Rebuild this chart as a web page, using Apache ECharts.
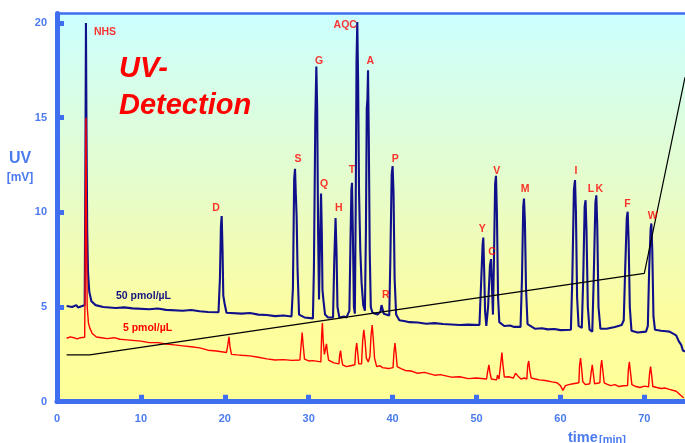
<!DOCTYPE html>
<html>
<head>
<meta charset="utf-8">
<script src="https://cdn.jsdelivr.net/npm/echarts@6/dist/echarts.min.js"></script>
<style>html,body{margin:0;padding:0;background:#fff;}#c{width:685px;height:443px;}</style>
</head>
<body>
<div id="c"></div>
<script>
// ---- data (time [min], UV [mV]) ----
const xTicks = [0, 10, 20, 30, 40, 50, 60, 70];
const yTicks = [0, 5, 10, 15, 20];

const trace50 = [
[1.15,5.05],[1.8,5.0],[2.3,5.1],[2.5,4.98],[2.7,5.08],[3.0,5.05],[3.3,5.1],
[3.38,12.0],[3.45,20.0],[3.52,14.0],[3.6,9.0],[3.7,6.8],[3.85,5.8],[4.1,5.3],[4.6,5.1],[5.5,5.0],[7,4.95],[8,4.98],[9,4.93],[11,4.88],[12,4.92],[13,4.85],[15,4.8],[16,4.84],[17,4.78],[18,4.74],[19.25,4.72],
[19.42,6.5],[19.54,9.3],[19.63,9.8],[19.73,8.0],[19.82,5.6],[19.97,5.2],[20.2,4.7],[22,4.65],[23,4.68],[24,4.6],[25,4.58],[26,4.52],[27,4.55],[27.95,4.5],
[28.12,6.0],[28.27,11.8],[28.37,12.3],[28.46,11.0],[28.56,9.8],[28.67,7.0],[28.85,4.6],[29.5,4.45],[30.5,4.4],
[30.62,7.0],[30.79,15.0],[30.91,17.7],[31.01,15.5],[31.12,9.0],[31.23,5.4],[31.35,8.5],[31.47,11.0],[31.56,9.0],[31.64,5.9],[31.77,5.3],[31.95,4.6],[32.3,4.45],[32.9,4.45],
[33.05,7.5],[33.2,9.7],[33.31,8.0],[33.43,5.0],[33.65,4.45],[34.2,4.5],[34.5,4.45],[34.85,4.8],
[34.98,8.5],[35.09,11.2],[35.16,11.56],[35.26,9.0],[35.39,5.0],[35.5,4.65],
[35.6,10.0],[35.7,18.0],[35.79,20.05],[35.89,17.0],[36.0,11.0],[36.15,8.0],[36.3,6.3],[36.5,5.1],[36.7,4.8],
[36.82,9.0],[36.92,15.5],[37.0,16.0],[37.07,17.5],[37.16,14.0],[37.27,8.0],[37.4,5.0],[37.6,4.7],[38.2,4.6],[38.55,4.75],
[38.68,5.1],[38.8,5.1],[38.95,4.65],[39.6,4.55],
[39.73,7.5],[39.89,12.0],[40.0,12.44],[40.11,11.0],[40.24,6.5],[40.42,4.6],[40.8,4.3],[41.5,4.25],[42,4.2],[43,4.18],[44,4.12],[45,4.15],[46,4.1],[47,4.08],[48,4.05],[49,4.07],[50.35,4.05],
[50.57,6.5],[50.73,8.3],[50.81,8.67],[50.91,7.0],[51.02,4.8],[51.17,4.0],
[51.38,5.0],[51.6,7.2],[51.73,7.53],[51.85,6.0],[51.96,4.6],
[52.08,7.5],[52.22,11.5],[52.32,11.93],[52.43,10.0],[52.57,5.5],[52.72,4.2],[53.3,4.0],[54.0,4.02],[54.5,3.95],[55.25,3.95],
[55.42,6.5],[55.57,10.3],[55.66,10.73],[55.77,9.5],[55.9,6.0],[56.08,4.1],[57,3.85],[57.8,3.88],[58.5,3.82],[59.3,3.84],[60.0,3.78],[61.25,3.8],
[61.42,6.5],[61.61,11.2],[61.74,11.7],[61.85,10.0],[61.99,5.5],[62.17,4.0],[62.55,3.9],
[62.72,6.5],[62.89,10.3],[63.0,10.64],[63.11,9.0],[63.27,5.0],[63.47,3.8],[63.8,3.7],
[63.97,6.5],[64.17,10.5],[64.28,10.9],[64.39,9.3],[64.54,5.0],[64.77,3.85],[65.5,3.85],[66.5,3.95],[67.3,4.05],[67.55,4.3],
[67.72,7.0],[67.91,9.7],[68.02,10.03],[68.13,8.5],[68.27,5.0],[68.47,3.75],[69.2,3.65],[70.2,3.7],[70.42,4.0],
[70.58,7.0],[70.75,9.1],[70.84,9.41],[70.95,8.0],[71.09,4.5],[71.27,3.8],[72.0,3.75],[72.6,3.72],[73.0,3.7],[73.8,3.5],[74.1,3.2],[74.4,3.0],[74.6,2.7],[74.85,2.65]
];

const trace5 = [
[1.15,3.35],[1.6,3.42],[2.0,3.38],[2.4,3.32],[2.8,3.38],[3.3,3.4],
[3.38,9.0],[3.45,15.0],[3.52,9.0],[3.6,5.0],[3.75,4.15],[3.9,3.9],[4.2,3.6],[4.7,3.42],[5.3,3.38],[6,3.33],[6.8,3.38],[7.5,3.3],[8,3.28],[9,3.24],[10,3.2],[11,3.12],[12,3.12],[13,3.05],[14,3.0],[15,2.95],[16,2.9],[17,2.84],[18,2.72],[19,2.68],[20.2,2.6],
[20.36,3.0],[20.5,3.43],[20.62,2.9],[20.8,2.5],[21.5,2.47],[22,2.45],[23,2.42],[24,2.35],[25,2.26],[26,2.2],[27,2.22],[28,2.18],[28.95,2.2],
[29.1,3.0],[29.22,3.65],[29.34,3.0],[29.5,2.25],[30.0,2.15],[30.5,2.17],[31.45,2.1],
[31.54,3.5],[31.63,4.15],[31.73,3.2],[31.87,2.5],[32.0,2.55],[32.12,3.05],[32.23,2.6],[32.37,2.2],[33.0,2.05],[33.6,2.0],
[33.7,2.5],[33.8,2.7],[33.9,2.3],[34.05,1.95],[34.5,1.85],[35.0,1.9],[35.5,1.95],
[35.6,2.7],[35.72,3.1],[35.84,2.6],[35.97,2.0],[36.3,2.0],
[36.43,3.2],[36.57,3.8],[36.72,3.2],[36.87,2.3],[37.1,2.1],[37.3,2.4],
[37.43,3.5],[37.57,4.05],[37.7,3.3],[37.85,2.3],[38.1,1.85],[38.5,1.9],[38.8,1.8],[39.5,1.75],[40.05,1.8],
[40.16,2.6],[40.28,3.1],[40.4,2.6],[40.55,1.85],[41.0,1.75],[41.5,1.65],[42.2,1.62],[43,1.5],[43.8,1.55],[45,1.4],[45.7,1.43],[47,1.3],[48,1.32],[49,1.22],[50,1.25],[51.2,1.2],
[51.33,1.6],[51.48,1.95],[51.62,1.5],[51.77,1.2],[52.4,1.15],
[52.5,1.4],[52.58,1.5],[52.68,1.2],[52.85,1.3],
[52.93,2.2],[53.03,2.6],[53.14,2.0],[53.32,1.3],[53.8,1.32],[54.4,1.25],
[54.65,1.5],[54.8,1.6],[54.95,1.35],[55.3,1.2],[55.7,1.25],[56.0,1.2],
[56.1,1.9],[56.22,2.15],[56.34,1.7],[56.52,1.25],[57.0,1.2],[57.5,1.15],[58.2,1.12],[59,1.05],[59.6,1.0],[60.0,0.85],[60.3,0.6],[60.6,0.85],[61.0,0.9],[61.5,0.95],[62.2,1.0],
[62.28,1.9],[62.4,2.3],[62.52,1.8],[62.67,1.05],[63.0,0.9],[63.5,0.95],
[63.68,1.6],[63.8,1.95],[63.92,1.5],[64.07,0.95],[64.7,1.0],
[64.8,1.8],[64.92,2.2],[65.04,1.7],[65.22,1.0],[65.6,0.92],[66.0,0.85],[66.5,0.9],[67.0,0.8],[67.5,0.84],[68.0,0.85],
[68.1,1.7],[68.22,2.1],[68.34,1.6],[68.52,0.9],[69.0,0.8],[69.5,0.75],[70.0,0.82],[70.5,0.78],
[70.63,1.5],[70.75,1.85],[70.87,1.4],[71.02,0.8],[71.5,0.75],[72,0.7],[72.5,0.72],[73,0.65],[73.8,0.55],[74.3,0.35],[74.7,0.2]
];

const gradientLine = [[1.15,2.47],[3.9,2.47],[70.0,6.78],[74.85,17.13]];

const peakNames = ['NHS','D','S','G','Q','H','T','AQC','A','R','P','Y','C','V','M','I','L','K','F','W'];
const peakLabelT = [5.72,18.95,28.72,31.23,31.83,33.58,35.16,34.36,37.34,39.18,40.32,50.69,51.85,52.4,55.78,61.86,63.64,64.63,68.0,70.99];
const peakLabelV = [19.5,10.2,12.79,17.99,11.49,10.2,12.23,19.88,17.99,5.63,12.79,9.1,7.88,12.19,11.21,12.19,11.21,11.21,10.42,9.79];

// ---- chart ----
const AX = '#3f6ff0';
const LBL = '#4b7bef';
const FONT = 'Arial, "Liberation Sans", sans-serif';
const chart = echarts.init(document.getElementById('c'), null, {renderer:'canvas'});

const labelData = peakNames.map((n, i) => ({name: n, value: [peakLabelT[i], peakLabelV[i]]}));

chart.setOption({
  animation: false,
  backgroundColor: '#ffffff',
  grid: {
    left: 57, right: 0, top: 13.5, bottom: 41.3,
    show: true, borderWidth: 0,
    backgroundColor: new echarts.graphic.LinearGradient(0, 0, 0, 1, [
      {offset: 0, color: '#ccffff'},
      {offset: 0.45, color: '#e6fcca'},
      {offset: 0.78, color: '#fdfd9e'},
      {offset: 1, color: '#ffff99'}
    ])
  },
  xAxis: [{
    type: 'value', min: 0, max: 74.85, interval: 10,
    axisLine: {show: true, onZero: false, lineStyle: {color: AX, width: 5}},
    axisTick: {show: true, inside: true, length: 7, lineStyle: {color: AX, width: 5}},
    axisLabel: {color: LBL, fontFamily: FONT, fontWeight: 'bold', fontSize: 11, margin: 12, showMaxLabel: false},
    splitLine: {show: false}
  }, {
    type: 'value', min: 0, max: 74.85, position: 'top',
    axisLine: {show: true, onZero: false, lineStyle: {color: AX, width: 2.5}},
    axisTick: {show: false}, axisLabel: {show: false}, splitLine: {show: false}
  }],
  yAxis: {
    type: 'value', min: 0, max: 20.5, interval: 5,
    axisLine: {show: true, onZero: false, lineStyle: {color: AX, width: 5}},
    axisTick: {show: true, inside: true, length: 7, lineStyle: {color: AX, width: 5}},
    axisLabel: {color: LBL, fontFamily: FONT, fontWeight: 'bold', fontSize: 11, margin: 10, showMaxLabel: false},
    splitLine: {show: false}
  },
  series: [
    {type: 'line', name: '50 pmol/µL', data: trace50, showSymbol: false, symbol: 'none',
     lineStyle: {color: '#10108a', width: 2.1}, z: 2},
    {type: 'line', name: '5 pmol/µL', data: trace5, showSymbol: false, symbol: 'none',
     lineStyle: {color: '#ff0000', width: 1.4}, z: 3},
    {type: 'line', name: 'gradient', data: gradientLine, showSymbol: false, symbol: 'none',
     lineStyle: {color: '#000000', width: 1.2}, z: 4},
    {type: 'scatter', data: labelData, symbolSize: 1, itemStyle: {color: 'rgba(0,0,0,0)'}, z: 5,
     label: {show: true, position: 'inside', formatter: p => p.name, color: '#ff0000',
             fontFamily: FONT, fontWeight: 'bold', fontSize: 10.5}}
  ],
  graphic: [
    {type: 'text', x: 119, y: 69, style: {text: 'UV-', font: 'italic bold 29px ' + FONT, fill: '#ff0000', align: 'left', verticalAlign: 'middle'}},
    {type: 'text', x: 119, y: 106, style: {text: 'Detection', font: 'italic bold 29px ' + FONT, fill: '#ff0000', align: 'left', verticalAlign: 'middle'}},
    {type: 'text', x: 143.5, y: 296, style: {text: '50 pmol/µL', font: 'bold 10.5px ' + FONT, fill: '#141480', align: 'center', verticalAlign: 'middle'}},
    {type: 'text', x: 147.5, y: 328, style: {text: '5 pmol/µL', font: 'bold 10.5px ' + FONT, fill: '#ff0000', align: 'center', verticalAlign: 'middle'}},
    {type: 'text', x: 20, y: 159, style: {text: 'UV', font: 'bold 16px ' + FONT, fill: LBL, align: 'center', verticalAlign: 'middle'}},
    {type: 'text', x: 20, y: 178, style: {text: '[mV]', font: 'bold 12px ' + FONT, fill: LBL, align: 'center', verticalAlign: 'middle'}},
    {type: 'text', x: 568, y: 438, style: {text: 'time', font: 'bold 14.5px ' + FONT, fill: LBL, align: 'left', verticalAlign: 'middle'}},
    {type: 'text', x: 599, y: 440, style: {text: '[min]', font: 'bold 11px ' + FONT, fill: LBL, align: 'left', verticalAlign: 'middle'}}
  ]
});
</script>
</body>
</html>
